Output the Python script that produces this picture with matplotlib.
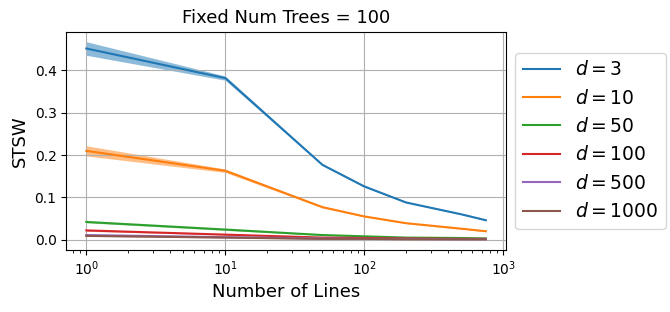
import matplotlib
matplotlib.use("Agg")
import matplotlib.pyplot as plt
import numpy as np

# number of lines (x axis)
num_lines = [1, 10, 50, 100, 200, 500, 750]
dims = [3, 10, 50, 100, 500, 1000]

# mean STSW per dimension
means = {
    3:    [0.452, 0.382, 0.177, 0.126, 0.088, 0.060, 0.046],
    10:   [0.210, 0.163, 0.077, 0.055, 0.039, 0.026, 0.020],
    50:   [0.042, 0.024, 0.011, 0.008, 0.005, 0.004, 0.003],
    100:  [0.022, 0.012, 0.005, 0.004, 0.003, 0.002, 0.002],
    500:  [0.011, 0.006, 0.003, 0.002, 0.002, 0.001, 0.001],
    1000: [0.009, 0.005, 0.002, 0.002, 0.001, 0.001, 0.001],
}
# std band half-width
stds = {
    3:    [0.016, 0.005, 0.002, 0.002, 0.001, 0.001, 0.001],
    10:   [0.012, 0.004, 0.002, 0.001, 0.001, 0.001, 0.001],
    50:   [0.002, 0.002, 0.001, 0.001, 0.001, 0.001, 0.001],
    100:  [0.002, 0.001, 0.001, 0.001, 0.001, 0.001, 0.001],
    500:  [0.001, 0.001, 0.001, 0.001, 0.001, 0.001, 0.001],
    1000: [0.001, 0.001, 0.001, 0.001, 0.001, 0.001, 0.001],
}

fig = plt.figure(figsize=(6.7, 3.12), dpi=100)
ax = fig.add_axes([0.099, 0.2, 0.656, 0.698])

for d in dims:
    m = np.array(means[d])
    s = np.array(stds[d])
    line, = ax.plot(num_lines, m, label=f"$d = {d}$", lw=1.5)
    ax.fill_between(num_lines, m - s, m + s, color=line.get_color(), alpha=0.5, lw=0)

ax.set_xscale("log")
ax.grid(True)
ax.set_title("Fixed Num Trees = 100", fontsize=13)
ax.set_xlabel("Number of Lines", fontsize=13)
ax.set_ylabel("STSW", fontsize=13)
ax.legend(loc="center left", bbox_to_anchor=(1.0, 0.5), fontsize=13.5)

fig.savefig("out.png", dpi=100)
